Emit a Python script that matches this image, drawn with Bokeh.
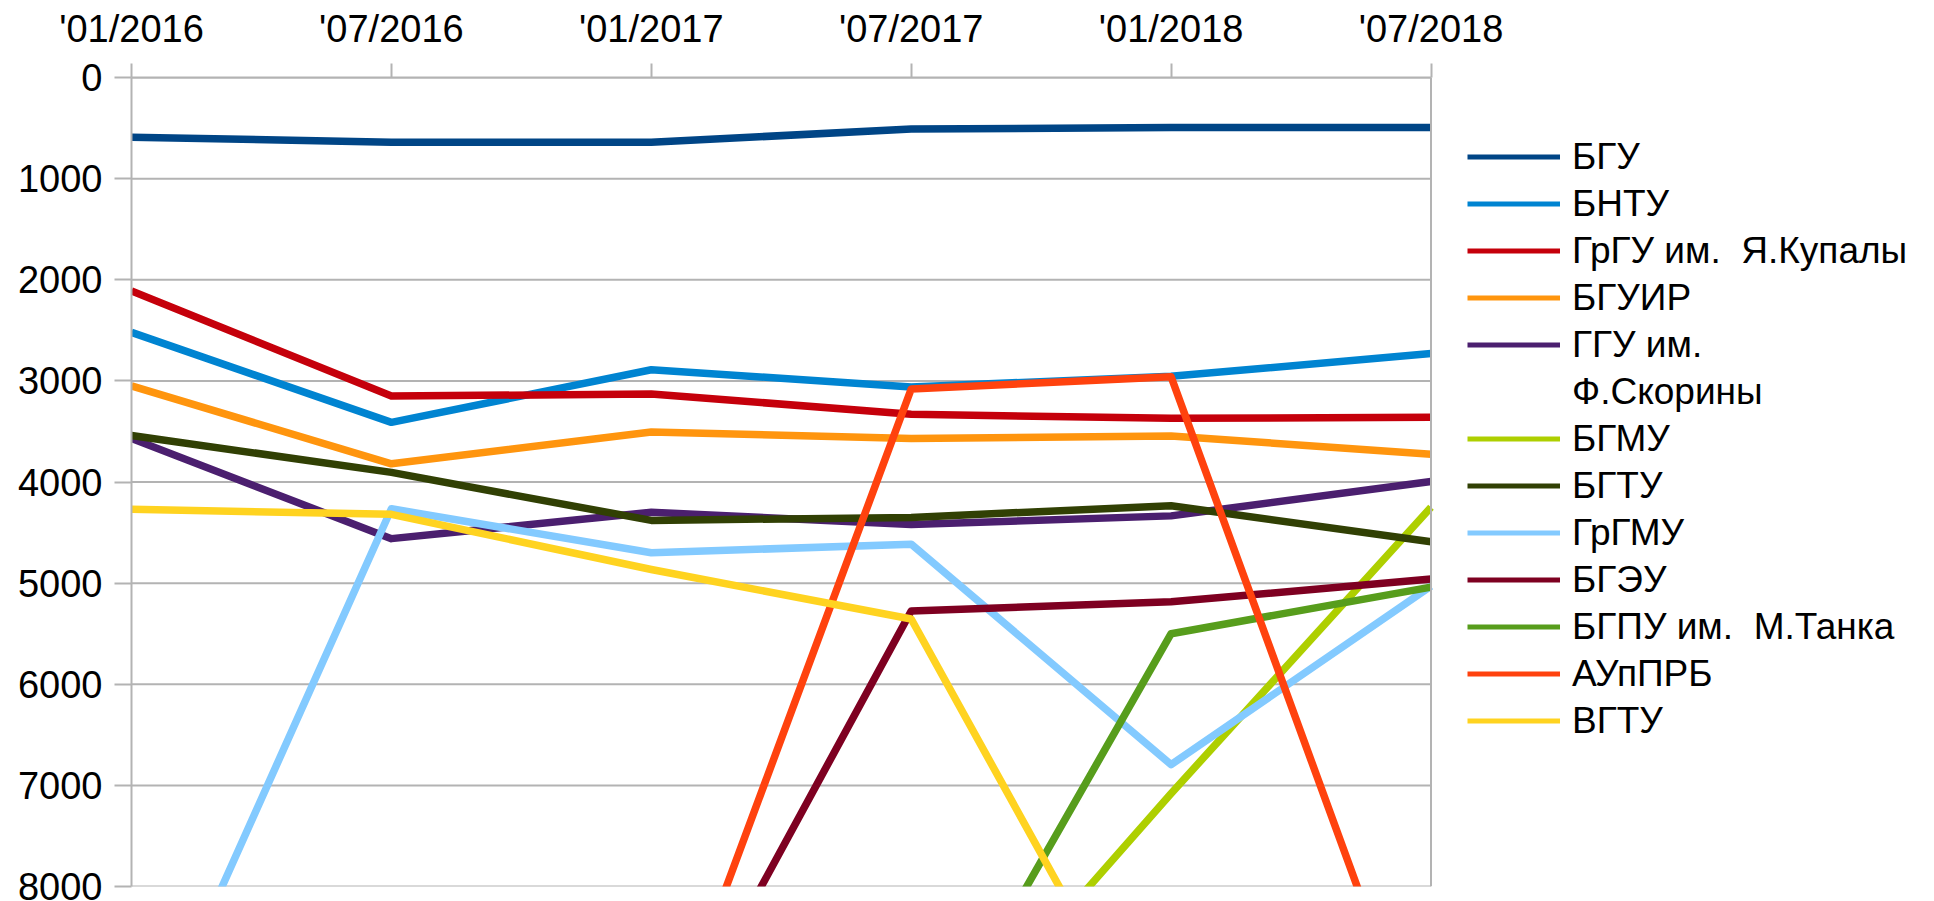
from bokeh.plotting import figure
from bokeh.models import (Range1d, FixedTicker, Legend, LegendItem, Span)
from bokeh.embed import file_html
from bokeh.resources import INLINE

# ---- data ----
periods = ["'01/2016", "'07/2016", "'01/2017", "'07/2017", "'01/2018", "'07/2018"]

names = ["БГУ", "БНТУ", "ГрГУ им.  Я.Купалы", "БГУИР", "ГГУ им.\nФ.Скорины",
         "БГМУ", "БГТУ", "ГрГМУ", "БГЭУ", "БГПУ им.  М.Танка", "АУпПРБ", "ВГТУ"]

bgu     = [590, 640, 640, 510, 495, 495]
bntu    = [2520, 3410, 2890, 3060, 2955, 2730]
grgu    = [2110, 3150, 3130, 3330, 3370, 3360]
bguir   = [3050, 3820, 3505, 3570, 3545, 3725]
ggu     = [3570, 4560, 4300, 4420, 4335, 3995]
bgmu    = [10000, 10000, 10000, 10000, 7080, 4250]
bgtu    = [3540, 3905, 4380, 4350, 4235, 4590]
grgmu   = [10000, 4265, 4700, 4615, 6795, 5030]
bgeu    = [10000, 10000, 10000, 5275, 5185, 4960]
bgpu    = [10000, 10000, 10000, 10000, 5500, 5040]
aupprb  = [10000, 10000, 10000, 3080, 2960, 10000]
vgtu    = [4270, 4320, 4865, 5355, 10000, 10000]

series = [bgu, bntu, grgu, bguir, ggu, bgmu, bgtu, grgmu, bgeu, bgpu, aupprb, vgtu]
colors = ["#004586", "#0084d1", "#c5000b", "#ff950e", "#4b1f6f", "#aecf00",
          "#314004", "#83caff", "#7e0021", "#579d1c", "#ff420e", "#ffd320"]

y_ticks = [0, 1000, 2000, 3000, 4000, 5000, 6000, 7000, 8000]

# ---- layout constants ----
FONT = "Liberation Sans"
GRID = "#b3b3b3"
NAN = float("nan")
W, H = 1934, 901
LEFT, TOP, RIGHT, BOTTOM = 131, 77, 2, 15
CHART_W = 1299.5                      # width of the plotting area proper
LEGEND_X = 1467                       # left edge of legend glyphs (canvas px)
LEGEND_TOP = 133                      # top of the first legend row (canvas px)
ROW_H = 47
n = len(periods)
unit = CHART_W / (n - 1)
x_end = (W - RIGHT - LEFT) / unit     # frame extends right to hold the legend
frame_h = H - TOP - BOTTOM
n_rows = len(names) + 1
legend_y = frame_h - (LEGEND_TOP - TOP) - n_rows * ROW_H

p = figure(width=W, height=H, output_backend="svg", toolbar_location=None,
           x_axis_location="above",
           x_range=Range1d(0, x_end), y_range=Range1d(8000, 0),
           min_border_left=LEFT, min_border_top=TOP, min_border_bottom=BOTTOM,
           min_border_right=RIGHT)
p.outline_line_color = None
p.xgrid.grid_line_color = None
p.ygrid.grid_line_color = None

xs = list(range(n))
# horizontal grid lines limited to the chart area
p.segment(x0=[0] * len(y_ticks), x1=[n - 1] * len(y_ticks), y0=y_ticks, y1=y_ticks,
          line_color=GRID, line_width=2)
p.add_layout(Span(location=n - 1, dimension="height", line_color=GRID, line_width=2))

for vals, col in zip(series, colors):
    p.line(xs, vals, line_color=col, line_width=7.5, line_join="round")

# legend proxies (thinner strokes like the reference legend)
items = []
for name, col in zip(names, colors):
    if "\n" in name:
        first, second = name.split("\n")
        r1 = p.line(x=[NAN], y=[NAN], line_color=col, line_width=5)
        r2 = p.line(x=[NAN], y=[NAN], line_color=col, line_width=5, line_alpha=0)
        items.append(LegendItem(label=first, renderers=[r1]))
        items.append(LegendItem(label=second, renderers=[r2]))
    else:
        r = p.line(x=[NAN], y=[NAN], line_color=col, line_width=5)
        items.append(LegendItem(label=name, renderers=[r]))

legend = Legend(items=items, location=(LEGEND_X - LEFT, legend_y), margin=0, padding=0,
                spacing=0, label_height=ROW_H, glyph_height=ROW_H, glyph_width=93,
                label_standoff=12, label_text_font=FONT,
                label_text_font_size="37px", label_text_color="black",
                border_line_alpha=0, background_fill_alpha=0)
p.add_layout(legend, "center")

# axes
xa = p.xaxis[0]
xa.ticker = FixedTicker(ticks=xs)
xa.bounds = (0, n - 1)
xa.major_label_overrides = {i: lab for i, lab in enumerate(periods)}
ya = p.yaxis[0]
ya.ticker = FixedTicker(ticks=y_ticks)
for ax in (xa, ya):
    ax.axis_line_color = GRID
    ax.axis_line_width = 2
    ax.major_tick_line_color = GRID
    ax.major_tick_line_width = 2
    ax.major_tick_in = 0
    ax.minor_tick_line_color = None
    ax.major_label_text_font = FONT
    ax.major_label_text_color = "black"
xa.major_label_text_font_size = "38px"
ya.major_label_text_font_size = "38px"
xa.major_tick_out = 14
xa.major_label_standoff = 14
ya.major_tick_out = 17
ya.major_label_standoff = 12

open("out.html", "w").write(file_html(p, INLINE))
